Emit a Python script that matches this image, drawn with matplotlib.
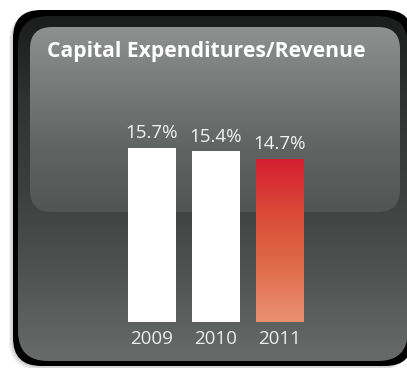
import numpy as np
import matplotlib
matplotlib.use("Agg")
import matplotlib.pyplot as plt
from matplotlib.patches import FancyBboxPatch
from matplotlib.colors import LinearSegmentedColormap

# chart data
years = ["2009", "2010", "2011"]
capex_ratio = [15.7, 15.4, 14.7]
value_labels = ["15.7%", "15.4%", "14.7%"]
title = "Capital Expenditures/Revenue"

W, H = 407, 368
plt.rcParams["font.family"] = ["Open Sans", "DejaVu Sans"]

fig = plt.figure(figsize=(W / 100, H / 100), dpi=100)
fig.patch.set_facecolor("white")

# background axes in pixel coordinates (y grows downward)
bg = fig.add_axes([0, 0, 1, 1])
bg.set_xlim(0, W)
bg.set_ylim(H, 0)
bg.axis("off")


def rounded(x0, y0, x1, y1, r, **kw):
    p = FancyBboxPatch((x0 + r, y0 + r), (x1 - x0) - 2 * r, (y1 - y0) - 2 * r,
                       boxstyle=f"round,pad={r}", **kw)
    bg.add_patch(p)
    return p


def gradient_fill(patch, extent, colors, ax, zorder):
    cmap = LinearSegmentedColormap.from_list("g", colors)
    grad = np.linspace(0, 1, 256).reshape(-1, 1)
    im = ax.imshow(grad, cmap=cmap, extent=extent, aspect="auto",
                   zorder=zorder, interpolation="bicubic")
    im.set_clip_path(patch)
    return im


# soft shadow
for k, a in enumerate([0.05, 0.05, 0.06]):
    rounded(13 - 4 + k, 10 + 2, 413 - 4 + k, 366 + 4 - k, 30,
            facecolor="black", edgecolor="none", alpha=a, zorder=0)

# black frame
rounded(13, 10, 413, 366, 28, facecolor="black", edgecolor="none", zorder=1)

# dark base panel
base = rounded(18, 16, 408, 361, 30, facecolor="none", edgecolor="none", zorder=2)
gradient_fill(base, (18, 408, 361, 16),
              ["#1a1d1c", "#2f3331", "#3b3f3d", "#4f5351", "#676b69"], bg, 2)

# glossy upper panel
gloss = rounded(30, 27, 400, 212, 22, facecolor="none", edgecolor="none", zorder=3)
gradient_fill(gloss, (30, 400, 212, 27),
              ["#8e9190", "#777a79", "#5f6361", "#515553"], bg, 3)

bg.text(47, 52, title, color="white", fontsize=15.2, fontweight="bold",
        ha="left", va="center", zorder=5)

# bar axes
ax = fig.add_axes([88 / W, 46 / H, 256 / W, 222 / H])
ax.set_xlim(-1, 3)
ax.set_ylim(0, 20)
ax.axis("off")
ax.patch.set_alpha(0)

x = np.arange(len(years))
bars = ax.bar(x, capex_ratio, width=0.75, color="white", zorder=3)

# gradient fill for the latest year
last = bars[-1]
last.set_facecolor("none")
bx, bw = last.get_x(), last.get_width()
gradient_fill(last, (bx, bx + bw, 0, capex_ratio[-1]),
              ["#d51d30", "#db4a37", "#e06c4c", "#eb9073"], ax, 3)
ax.set_ylim(0, 20)
ax.set_xlim(-1, 3)

for xi, v, lab in zip(x, capex_ratio, value_labels):
    ax.text(xi, v + 0.5, lab, color="#f2f2f2", fontsize=13.5,
            ha="center", va="bottom", zorder=4)

for xi, yr in zip(x, years):
    ax.text(xi, -0.75, yr, color="#ececec", fontsize=13.5,
            ha="center", va="top", zorder=4)

fig.savefig("out.png", dpi=100, facecolor="white")
